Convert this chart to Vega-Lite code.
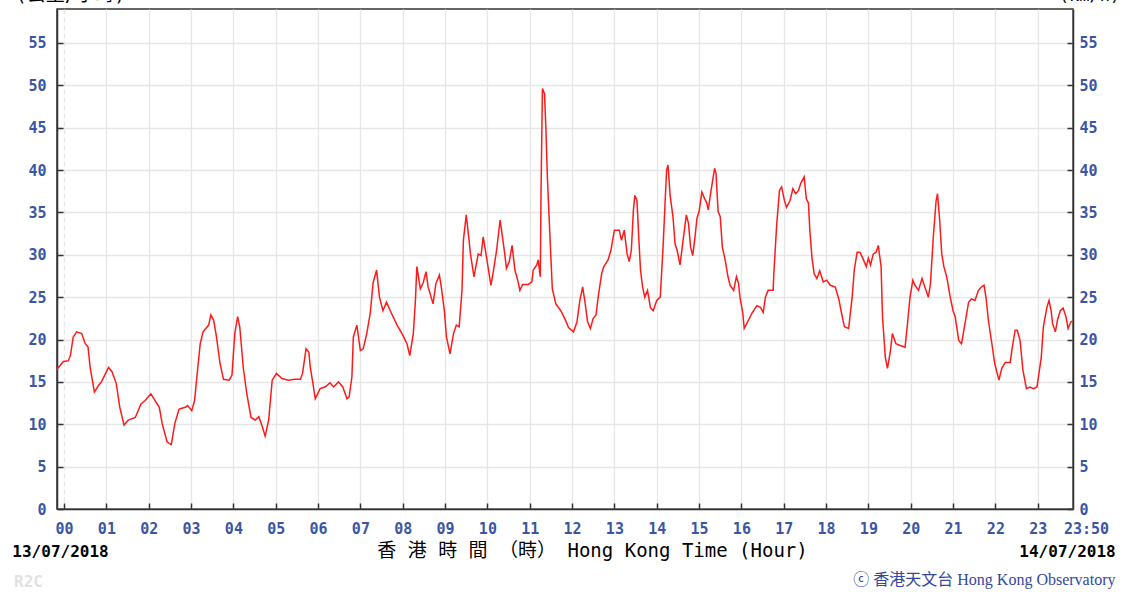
{
  "$schema": "https://vega.github.io/schema/vega-lite/v6.json",
  "width": 1016,
  "height": 500,
  "autosize": {"type": "none"},
  "padding": {"left": 57, "top": 9, "right": 54, "bottom": 83},
  "background": "white",
  "config": {
    "view": {"stroke": "#333333", "strokeWidth": 1.5},
    "axis": {"labelFont": "DejaVu Sans Mono", "titleFont": "DejaVu Sans Mono"}
  },
  "data": {"values": [
    {"t":-10,"v":16.4},{"t":-8,"v":16.7},{"t":-1,"v":17.4},{"t":6,"v":17.5},{"t":9,"v":18.1},{"t":13,"v":20.3},{"t":18,"v":20.9},{"t":25,"v":20.7},{"t":30,"v":19.5},{"t":34,"v":19.1},{"t":37,"v":16.7},{"t":43,"v":13.8},{"t":49,"v":14.6},{"t":53,"v":15.0},{"t":63,"v":16.7},{"t":68,"v":16.2},{"t":74,"v":14.8},{"t":79,"v":12.0},{"t":85,"v":9.9},{"t":91,"v":10.5},{"t":101,"v":10.8},{"t":109,"v":12.4},{"t":115,"v":12.8},{"t":123,"v":13.6},{"t":129,"v":12.8},{"t":135,"v":12.0},{"t":139,"v":10.1},{"t":146,"v":7.9},{"t":152,"v":7.6},{"t":157,"v":10.1},{"t":163,"v":11.8},{"t":172,"v":12.0},{"t":175,"v":12.2},{"t":181,"v":11.6},{"t":185,"v":12.8},{"t":188,"v":15.4},{"t":193,"v":19.5},{"t":197,"v":20.9},{"t":205,"v":21.7},{"t":208,"v":22.9},{"t":212,"v":22.3},{"t":216,"v":20.3},{"t":221,"v":17.2},{"t":226,"v":15.3},{"t":234,"v":15.2},{"t":238,"v":15.8},{"t":242,"v":20.7},{"t":246,"v":22.7},{"t":249,"v":21.5},{"t":254,"v":16.7},{"t":259,"v":13.6},{"t":265,"v":10.8},{"t":271,"v":10.5},{"t":276,"v":10.9},{"t":281,"v":9.7},{"t":285,"v":8.6},{"t":290,"v":10.5},{"t":295,"v":15.2},{"t":301,"v":16.0},{"t":309,"v":15.4},{"t":318,"v":15.2},{"t":327,"v":15.3},{"t":335,"v":15.3},{"t":338,"v":16.0},{"t":343,"v":18.9},{"t":347,"v":18.5},{"t":349,"v":16.7},{"t":352,"v":15.2},{"t":356,"v":13.0},{"t":363,"v":14.2},{"t":370,"v":14.4},{"t":377,"v":14.9},{"t":382,"v":14.4},{"t":389,"v":15.0},{"t":395,"v":14.4},{"t":401,"v":13.0},{"t":404,"v":13.2},{"t":408,"v":15.6},{"t":410,"v":20.3},{"t":415,"v":21.7},{"t":420,"v":18.7},{"t":424,"v":18.9},{"t":429,"v":20.7},{"t":434,"v":23.1},{"t":438,"v":26.7},{"t":443,"v":28.2},{"t":447,"v":25.0},{"t":452,"v":23.4},{"t":457,"v":24.4},{"t":464,"v":23.1},{"t":472,"v":21.7},{"t":479,"v":20.7},{"t":486,"v":19.5},{"t":490,"v":18.1},{"t":495,"v":20.7},{"t":498,"v":24.6},{"t":500,"v":28.6},{"t":505,"v":26.0},{"t":509,"v":26.7},{"t":513,"v":28.0},{"t":516,"v":26.2},{"t":523,"v":24.2},{"t":527,"v":26.6},{"t":532,"v":27.6},{"t":535,"v":26.0},{"t":539,"v":23.4},{"t":542,"v":20.3},{"t":547,"v":18.3},{"t":552,"v":20.7},{"t":556,"v":21.7},{"t":560,"v":21.5},{"t":564,"v":25.8},{"t":566,"v":31.7},{"t":570,"v":34.7},{"t":573,"v":32.5},{"t":576,"v":30.1},{"t":581,"v":27.4},{"t":587,"v":30.1},{"t":591,"v":29.9},{"t":594,"v":32.1},{"t":598,"v":30.1},{"t":605,"v":26.4},{"t":608,"v":27.8},{"t":613,"v":30.5},{"t":618,"v":34.1},{"t":620,"v":32.9},{"t":624,"v":30.5},{"t":627,"v":28.4},{"t":631,"v":29.2},{"t":635,"v":31.1},{"t":639,"v":28.2},{"t":643,"v":27.0},{"t":646,"v":25.8},{"t":650,"v":26.5},{"t":658,"v":26.5},{"t":663,"v":26.8},{"t":665,"v":28.2},{"t":670,"v":28.8},{"t":672,"v":29.4},{"t":675,"v":27.4},{"t":676,"v":37.2},{"t":678,"v":49.6},{"t":681,"v":49.0},{"t":683,"v":44.7},{"t":685,"v":39.2},{"t":687,"v":35.3},{"t":690,"v":29.7},{"t":692,"v":26.0},{"t":697,"v":24.2},{"t":704,"v":23.4},{"t":710,"v":22.4},{"t":715,"v":21.4},{"t":722,"v":20.9},{"t":727,"v":22.1},{"t":731,"v":24.6},{"t":735,"v":26.2},{"t":738,"v":24.6},{"t":742,"v":22.1},{"t":746,"v":21.3},{"t":750,"v":22.5},{"t":754,"v":22.9},{"t":757,"v":25.0},{"t":762,"v":27.8},{"t":765,"v":28.6},{"t":771,"v":29.4},{"t":775,"v":30.5},{"t":780,"v":32.9},{"t":787,"v":32.9},{"t":790,"v":31.7},{"t":794,"v":32.9},{"t":798,"v":30.1},{"t":801,"v":29.2},{"t":804,"v":30.5},{"t":807,"v":35.3},{"t":809,"v":37.0},{"t":812,"v":36.4},{"t":815,"v":31.3},{"t":817,"v":28.2},{"t":820,"v":26.2},{"t":823,"v":25.0},{"t":827,"v":25.8},{"t":831,"v":23.8},{"t":835,"v":23.4},{"t":840,"v":24.6},{"t":845,"v":25.0},{"t":849,"v":30.9},{"t":852,"v":36.4},{"t":854,"v":40.0},{"t":856,"v":40.6},{"t":859,"v":37.0},{"t":863,"v":34.5},{"t":866,"v":31.3},{"t":869,"v":30.5},{"t":873,"v":28.8},{"t":878,"v":32.1},{"t":882,"v":34.7},{"t":885,"v":33.7},{"t":888,"v":30.9},{"t":891,"v":29.9},{"t":894,"v":31.9},{"t":897,"v":34.3},{"t":900,"v":35.1},{"t":904,"v":37.4},{"t":907,"v":36.8},{"t":911,"v":36.1},{"t":913,"v":35.3},{"t":917,"v":37.6},{"t":919,"v":38.6},{"t":922,"v":40.2},{"t":924,"v":39.6},{"t":927,"v":35.1},{"t":930,"v":34.5},{"t":933,"v":30.9},{"t":937,"v":29.4},{"t":941,"v":27.4},{"t":944,"v":26.4},{"t":949,"v":25.8},{"t":953,"v":27.4},{"t":956,"v":26.6},{"t":958,"v":25.0},{"t":962,"v":23.1},{"t":964,"v":21.3},{"t":969,"v":22.1},{"t":975,"v":23.1},{"t":982,"v":24.0},{"t":987,"v":23.8},{"t":991,"v":23.2},{"t":994,"v":25.0},{"t":998,"v":25.8},{"t":1005,"v":25.8},{"t":1006,"v":27.8},{"t":1010,"v":33.5},{"t":1014,"v":37.6},{"t":1017,"v":38.0},{"t":1021,"v":36.4},{"t":1024,"v":35.6},{"t":1029,"v":36.4},{"t":1033,"v":37.8},{"t":1037,"v":37.2},{"t":1041,"v":37.6},{"t":1044,"v":38.4},{"t":1049,"v":39.2},{"t":1052,"v":36.6},{"t":1055,"v":36.1},{"t":1057,"v":32.9},{"t":1060,"v":29.7},{"t":1063,"v":27.8},{"t":1067,"v":27.2},{"t":1071,"v":28.1},{"t":1076,"v":26.8},{"t":1081,"v":27.0},{"t":1086,"v":26.4},{"t":1093,"v":26.2},{"t":1098,"v":24.8},{"t":1102,"v":23.1},{"t":1106,"v":21.5},{"t":1112,"v":21.3},{"t":1117,"v":25.0},{"t":1120,"v":28.2},{"t":1124,"v":30.3},{"t":1128,"v":30.3},{"t":1132,"v":29.6},{"t":1137,"v":28.6},{"t":1140,"v":29.6},{"t":1143,"v":28.8},{"t":1147,"v":30.1},{"t":1151,"v":30.3},{"t":1154,"v":31.1},{"t":1158,"v":28.6},{"t":1160,"v":22.7},{"t":1164,"v":17.9},{"t":1167,"v":16.6},{"t":1171,"v":18.5},{"t":1174,"v":20.7},{"t":1179,"v":19.5},{"t":1185,"v":19.3},{"t":1192,"v":19.1},{"t":1195,"v":21.5},{"t":1199,"v":25.0},{"t":1203,"v":27.0},{"t":1206,"v":26.4},{"t":1211,"v":25.8},{"t":1216,"v":27.2},{"t":1220,"v":26.2},{"t":1225,"v":25.0},{"t":1228,"v":26.6},{"t":1232,"v":32.1},{"t":1236,"v":36.4},{"t":1238,"v":37.2},{"t":1241,"v":34.1},{"t":1244,"v":30.1},{"t":1247,"v":28.6},{"t":1251,"v":27.4},{"t":1256,"v":25.0},{"t":1260,"v":23.4},{"t":1263,"v":22.7},{"t":1268,"v":19.9},{"t":1272,"v":19.5},{"t":1277,"v":21.9},{"t":1282,"v":24.4},{"t":1286,"v":24.8},{"t":1291,"v":24.6},{"t":1296,"v":25.8},{"t":1300,"v":26.2},{"t":1304,"v":26.4},{"t":1307,"v":24.8},{"t":1310,"v":22.3},{"t":1315,"v":19.5},{"t":1319,"v":17.2},{"t":1325,"v":15.2},{"t":1329,"v":16.6},{"t":1334,"v":17.3},{"t":1341,"v":17.3},{"t":1344,"v":19.1},{"t":1348,"v":21.1},{"t":1351,"v":21.1},{"t":1355,"v":19.9},{"t":1359,"v":16.4},{"t":1364,"v":14.2},{"t":1369,"v":14.4},{"t":1374,"v":14.2},{"t":1379,"v":14.4},{"t":1381,"v":15.6},{"t":1385,"v":17.9},{"t":1388,"v":21.5},{"t":1393,"v":23.8},{"t":1396,"v":24.6},{"t":1399,"v":23.4},{"t":1401,"v":21.9},{"t":1405,"v":20.9},{"t":1408,"v":22.3},{"t":1412,"v":23.4},{"t":1416,"v":23.7},{"t":1420,"v":22.7},{"t":1423,"v":21.3},{"t":1427,"v":22.1},{"t":1430,"v":22.2}
  ]},
  "layer": [
    {
      "mark": {"type": "line", "color": "#ff1a1a", "strokeWidth": 1.5, "interpolate": "linear"},
      "encoding": {
        "x": {
          "field": "t", "type": "quantitative",
          "scale": {"domain": [-10, 1430], "nice": false, "zero": false},
          "axis": {
            "orient": "bottom",
            "values": [0,60,120,180,240,300,360,420,480,540,600,660,720,780,840,900,960,1020,1080,1140,1200,1260,1320,1380,1430],
            "labelExpr": "datum.value == 1430 ? '23:50' : (datum.value < 600 ? '0' : '') + (datum.value / 60)",
            "labelFont": "DejaVu Sans Mono", "labelFontWeight": "bold", "labelFontSize": 15, "labelColor": "#3a55a5",
            "labelPadding": 18, "labelFlush": false, "labelOverlap": false, "labelBound": false,
            "labelOffset": {"condition": {"test": "datum.value == 1430", "value": 13}, "value": 0},
            "tickSize": -6, "tickColor": "#333333", "tickWidth": 1.5,
            "tickOpacity": {"condition": {"test": "datum.value == 1430", "value": 0}, "value": 1},
            "domainColor": "#333333", "domainWidth": 1.5,
            "grid": true, "gridColor": "#e6e6e6", "gridWidth": 1.3,
            "gridDash": {"condition": {"test": "datum.value == 0", "value": [5, 3]}, "value": []},
            "title": "香 港 時 間 （時） Hong Kong Time (Hour)",
            "titleFont": "DejaVu Sans Mono, Noto Sans CJK TC", "titleFontWeight": "normal", "titleFontSize": 19, "titleColor": "#000000",
            "titleX": 535, "titleY": 47, "titleAlign": "center", "titleAnchor": null, "titleBaseline": "alphabetic"
          }
        },
        "y": {
          "field": "v", "type": "quantitative",
          "scale": {"domain": [0, 59], "nice": false, "zero": true},
          "axis": {
            "orient": "left",
            "values": [0,5,10,15,20,25,30,35,40,45,50,55],
            "labelFont": "DejaVu Sans Mono", "labelFontWeight": "bold", "labelFontSize": 15, "labelColor": "#3a55a5",
            "labelPadding": 17, "labelOverlap": false, "labelFlush": false,
            "tickSize": -6, "tickColor": "#333333", "tickWidth": 1.5,
            "domainColor": "#333333", "domainWidth": 1.5,
            "grid": true, "gridColor": "#e6e6e6", "gridWidth": 1.3,
            "title": "(公里/小時)",
            "titleFont": "DejaVu Sans Mono, Noto Sans CJK TC", "titleFontWeight": "normal", "titleFontSize": 19, "titleColor": "#000000",
            "titleAngle": 0, "titleX": 13, "titleY": -9, "titleAlign": "center", "titleAnchor": null, "titleBaseline": "alphabetic"
          }
        }
      }
    },
    {
      "mark": {"type": "line", "opacity": 0},
      "encoding": {
        "x": {
          "field": "t", "type": "quantitative",
          "scale": {"domain": [-10, 1430], "nice": false, "zero": false},
          "axis": {
            "orient": "bottom", "labels": false, "ticks": false, "domain": false, "grid": false,
            "title": "13/07/2018",
            "titleFont": "DejaVu Sans Mono", "titleFontWeight": "bold", "titleFontSize": 16, "titleColor": "#000000",
            "titleX": 3, "titleY": 47, "titleAlign": "center", "titleAnchor": null, "titleBaseline": "alphabetic"
          }
        },
        "y": {
          "field": "v", "type": "quantitative",
          "scale": {"domain": [0, 59], "nice": false, "zero": true},
          "axis": {
            "orient": "right",
            "values": [0,5,10,15,20,25,30,35,40,45,50,55],
            "labelFont": "DejaVu Sans Mono", "labelFontWeight": "bold", "labelFontSize": 15, "labelColor": "#3a55a5",
            "labelPadding": 12, "labelOverlap": false, "labelFlush": false,
            "tickSize": -6, "tickColor": "#333333", "tickWidth": 1.5,
            "domainColor": "#333333", "domainWidth": 1.5,
            "grid": false,
            "title": "(km/h)",
            "titleFont": "DejaVu Sans Mono", "titleFontWeight": "normal", "titleFontSize": 17, "titleColor": "#000000",
            "titleAngle": 0, "titleX": 16, "titleY": -9, "titleAlign": "center", "titleAnchor": null, "titleBaseline": "alphabetic"
          }
        }
      }
    },
    {
      "mark": {"type": "line", "opacity": 0},
      "encoding": {
        "x": {
          "field": "t", "type": "quantitative",
          "scale": {"domain": [-10, 1430], "nice": false, "zero": false},
          "axis": {
            "orient": "bottom", "labels": false, "ticks": false, "domain": false, "grid": false,
            "title": "14/07/2018",
            "titleFont": "DejaVu Sans Mono", "titleFontWeight": "bold", "titleFontSize": 16, "titleColor": "#000000",
            "titleX": 1010, "titleY": 47, "titleAlign": "center", "titleAnchor": null, "titleBaseline": "alphabetic"
          }
        },
        "y": {
          "field": "v", "type": "quantitative",
          "scale": {"domain": [0, 59], "nice": false, "zero": true},
          "axis": {
            "orient": "left", "labels": false, "ticks": false, "domain": false, "grid": false,
            "title": "R2C",
            "titleFont": "DejaVu Sans Mono", "titleFontWeight": "bold", "titleFontSize": 16, "titleColor": "#e2e2e2",
            "titleAngle": 0, "titleX": -29, "titleY": 577, "titleAlign": "center", "titleAnchor": null, "titleBaseline": "alphabetic"
          }
        }
      }
    },
    {
      "mark": {"type": "line", "opacity": 0},
      "encoding": {
        "x": {
          "field": "t", "type": "quantitative",
          "scale": {"domain": [-10, 1430], "nice": false, "zero": false},
          "axis": null
        },
        "y": {
          "field": "v", "type": "quantitative",
          "scale": {"domain": [0, 59], "nice": false, "zero": true},
          "axis": {
            "orient": "right", "labels": false, "ticks": false, "domain": false, "grid": false,
            "title": "ⓒ 香港天文台 Hong Kong Observatory",
            "titleFont": "Liberation Serif, Noto Sans CJK TC", "titleFontWeight": "normal", "titleFontSize": 16, "titleColor": "#34479e",
            "titleAngle": 0, "titleX": 42, "titleY": 575, "titleAlign": "right", "titleAnchor": null, "titleBaseline": "alphabetic"
          }
        }
      }
    }
  ],
  "resolve": {
    "scale": {"x": "independent", "y": "independent"},
    "axis": {"x": "independent", "y": "independent"}
  }
}
